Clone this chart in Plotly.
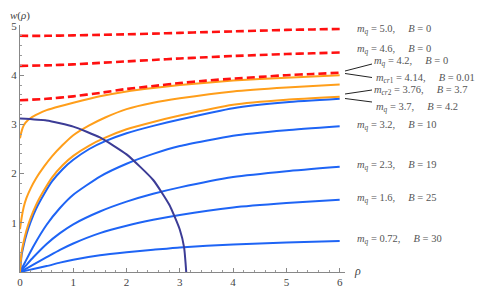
import plotly.graph_objects as go

# ---------------- data ----------------
rho_red = [0, 0.5, 1, 1.5, 2, 2.5, 3, 3.5, 4, 4.5, 5, 5.5, 6]
w_m50 = [4.80, 4.80, 4.81, 4.82, 4.83, 4.845, 4.86, 4.875, 4.89, 4.905, 4.92, 4.93, 4.94]
w_m46 = [4.19, 4.20, 4.22, 4.25, 4.28, 4.31, 4.34, 4.365, 4.39, 4.41, 4.43, 4.445, 4.46]
w_m42 = [3.49, 3.52, 3.57, 3.64, 3.72, 3.78, 3.84, 3.89, 3.93, 3.965, 4.00, 4.025, 4.05]

rho_cr1 = [0, 0.02, 0.05, 0.1, 0.2, 0.35, 0.5, 0.75, 1, 1.5, 2, 2.5, 3, 4, 5, 6]
w_cr1 = [2.72, 2.82, 2.93, 3.03, 3.13, 3.22, 3.29, 3.37, 3.44, 3.57, 3.67, 3.74, 3.80, 3.89, 3.95, 4.00]

rho_cr2 = [0, 0.03, 0.07, 0.12, 0.2, 0.3, 0.45, 0.6, 0.8, 1, 1.3, 1.6, 2, 2.5, 3, 4, 5, 6]
w_cr2 = [0.87, 1.10, 1.32, 1.50, 1.70, 1.90, 2.14, 2.35, 2.58, 2.78, 2.98, 3.14, 3.31, 3.44, 3.53, 3.67, 3.75, 3.81]

rho_g = [0, 0.03, 0.07, 0.12, 0.2, 0.3, 0.45, 0.6, 0.8, 1, 1.3, 1.6, 2, 2.5, 3, 4, 5, 6]
w_or3 = [0, 0.40, 0.62, 0.84, 1.10, 1.36, 1.66, 1.92, 2.17, 2.36, 2.57, 2.73, 2.90, 3.05, 3.18, 3.40, 3.50, 3.56]
w_m37 = [0, 0.34, 0.55, 0.76, 1.02, 1.28, 1.58, 1.84, 2.09, 2.28, 2.50, 2.66, 2.82, 2.97, 3.10, 3.33, 3.45, 3.52]

rho_b = [0, 0.1, 0.25, 0.5, 0.75, 1, 1.5, 2, 2.5, 3, 4, 5, 6]
w_m32 = [0, 0.21, 0.52, 0.96, 1.30, 1.57, 1.94, 2.20, 2.40, 2.56, 2.77, 2.88, 2.96]
w_m23 = [0, 0.12, 0.30, 0.57, 0.79, 0.97, 1.23, 1.43, 1.59, 1.72, 1.93, 2.05, 2.14]
w_m16 = [0, 0.06, 0.15, 0.30, 0.45, 0.58, 0.79, 0.94, 1.06, 1.16, 1.31, 1.40, 1.47]
w_m07 = [0, 0.025, 0.06, 0.12, 0.19, 0.25, 0.34, 0.40, 0.45, 0.50, 0.56, 0.60, 0.63]

rho_arc = [0, 0.5, 1.0, 1.5, 2.0, 2.5, 2.8, 3.0, 3.08, 3.12]
w_arc = [3.12, 3.08, 2.955, 2.735, 2.39, 1.87, 1.37, 0.86, 0.50, 0.0]

x_ticks = [0, 1, 2, 3, 4, 5, 6]
y_ticks = [1, 2, 3, 4, 5]

SP = "&nbsp;"
labels = [
    f"<i>m</i><sub><i>q</i></sub> = 5.0,{SP*5}<i>B</i> = 0",
    f"<i>m</i><sub><i>q</i></sub> = 4.6,{SP*5}<i>B</i> = 0",
    f"<i>m</i><sub><i>q</i></sub> = 4.2,{SP*5}<i>B</i> = 0",
    f"<i>m</i><sub><i>cr</i>1</sub> = 4.14,{SP*5}<i>B</i> = 0.01",
    f"<i>m</i><sub><i>cr</i>2</sub> = 3.76,{SP*5}<i>B</i> = 3.7",
    f"<i>m</i><sub><i>q</i></sub> = 3.7,{SP*5}<i>B</i> = 4.2",
    f"<i>m</i><sub><i>q</i></sub> = 3.2,{SP*5}<i>B</i> = 10",
    f"<i>m</i><sub><i>q</i></sub> = 2.3,{SP*5}<i>B</i> = 19",
    f"<i>m</i><sub><i>q</i></sub> = 1.6,{SP*5}<i>B</i> = 25",
    f"<i>m</i><sub><i>q</i></sub> = 0.72,{SP*5}<i>B</i> = 30",
]

# ---------------- styling / layout ----------------
OFF = 8                      # default page body margin
W, H = 491 - OFF, 294 - OFF  # figure size
L, R, T, B = 12, 146, 17, 22
XMAX, YMAX = 6.1, 5.02
pw, ph = W - L - R, H - T - B

RED = "#FF1010"
ORANGE = "#FF9E1A"
BLUE = "#1E64F5"
PURPLE = "#3C3C96"


def px(xp):  # page pixel -> paper
    return (xp - OFF - L) / pw


def py(yp):
    return (H - B - (yp - OFF)) / ph


fig = go.Figure()


def add(x, y, color, width=2.0, dash=None):
    fig.add_trace(go.Scatter(
        x=x, y=y, mode="lines", line_shape="spline",
        line=dict(color=color, width=width, dash=dash, smoothing=0.5),
        hoverinfo="skip", showlegend=False))


# blue
for wv in (w_m07, w_m16, w_m23, w_m32):
    add(rho_b, wv, BLUE)
add(rho_g, w_m37, BLUE)
# orange
add(rho_g, w_or3, ORANGE)
add(rho_cr2, w_cr2, ORANGE)
add(rho_cr1, w_cr1, ORANGE)
# red dashed
for wv in (w_m42, w_m46, w_m50):
    add(rho_red, wv, RED, width=2.6, dash="8px,4px")
# purple arc
add(rho_arc, w_arc, PURPLE, width=2.0)

# label positions (page pixels: left x, centre y)
label_pos = [(355, 30), (355, 49), (372, 61), (374, 78), (372, 91),
             (374, 107), (355, 125), (355, 165), (355, 198), (355, 239)]
annos = []
for txt, (lx, ly) in zip(labels, label_pos):
    annos.append(dict(x=px(lx), y=py(ly), xref="paper", yref="paper",
                      text=txt, showarrow=False, xanchor="left",
                      yanchor="middle",
                      font=dict(family="Liberation Serif", size=10.5,
                                color="#555555")))
annos.append(dict(x=px(20), y=py(8), xref="paper", yref="paper",
                  text="<i>w</i>(<i>ρ</i>)", showarrow=False,
                  xanchor="center", yanchor="top", borderpad=0,
                  font=dict(family="Liberation Serif", size=11,
                            color="#444444")))
annos.append(dict(x=px(352), y=py(271), xref="paper", yref="paper",
                  text="<i>ρ</i>", showarrow=False,
                  xanchor="left", yanchor="middle",
                  font=dict(family="Liberation Serif", size=12,
                            color="#444444")))

leaders = [((345, 71), (372, 64)), ((345, 73.5), (372, 77.5)),
           ((345, 94), (372, 90)), ((345, 98.5), (372, 102))]
shapes = []
for (x0, y0), (x1, y1) in leaders:
    shapes.append(dict(type="line", xref="paper", yref="paper",
                       x0=px(x0), y0=py(y0), x1=px(x1), y1=py(y1),
                       line=dict(color="#222222", width=1)))

axis_common = dict(
    showgrid=False, zeroline=False, showline=True, linecolor="#888888",
    linewidth=1, ticks="inside", ticklen=4, tickcolor="#888888",
    automargin=False,
    tickfont=dict(family="Liberation Serif", size=11, color="#444444"),
)

fig.update_layout(
    width=W, height=H, margin=dict(l=L, r=R, t=T, b=B),
    paper_bgcolor="white", plot_bgcolor="white",
    xaxis=dict(range=[0, XMAX], tickvals=x_ticks,
               minor=dict(ticks="inside", dtick=0.2, tick0=0, ticklen=2,
                          tickcolor="#999999"),
               **axis_common),
    yaxis=dict(range=[0, YMAX], tickvals=y_ticks,
               minor=dict(ticks="inside", dtick=0.2, tick0=0, ticklen=2,
                          tickcolor="#999999"),
               **axis_common),
    annotations=annos, shapes=shapes,
)

fig.write_html("out.html")
